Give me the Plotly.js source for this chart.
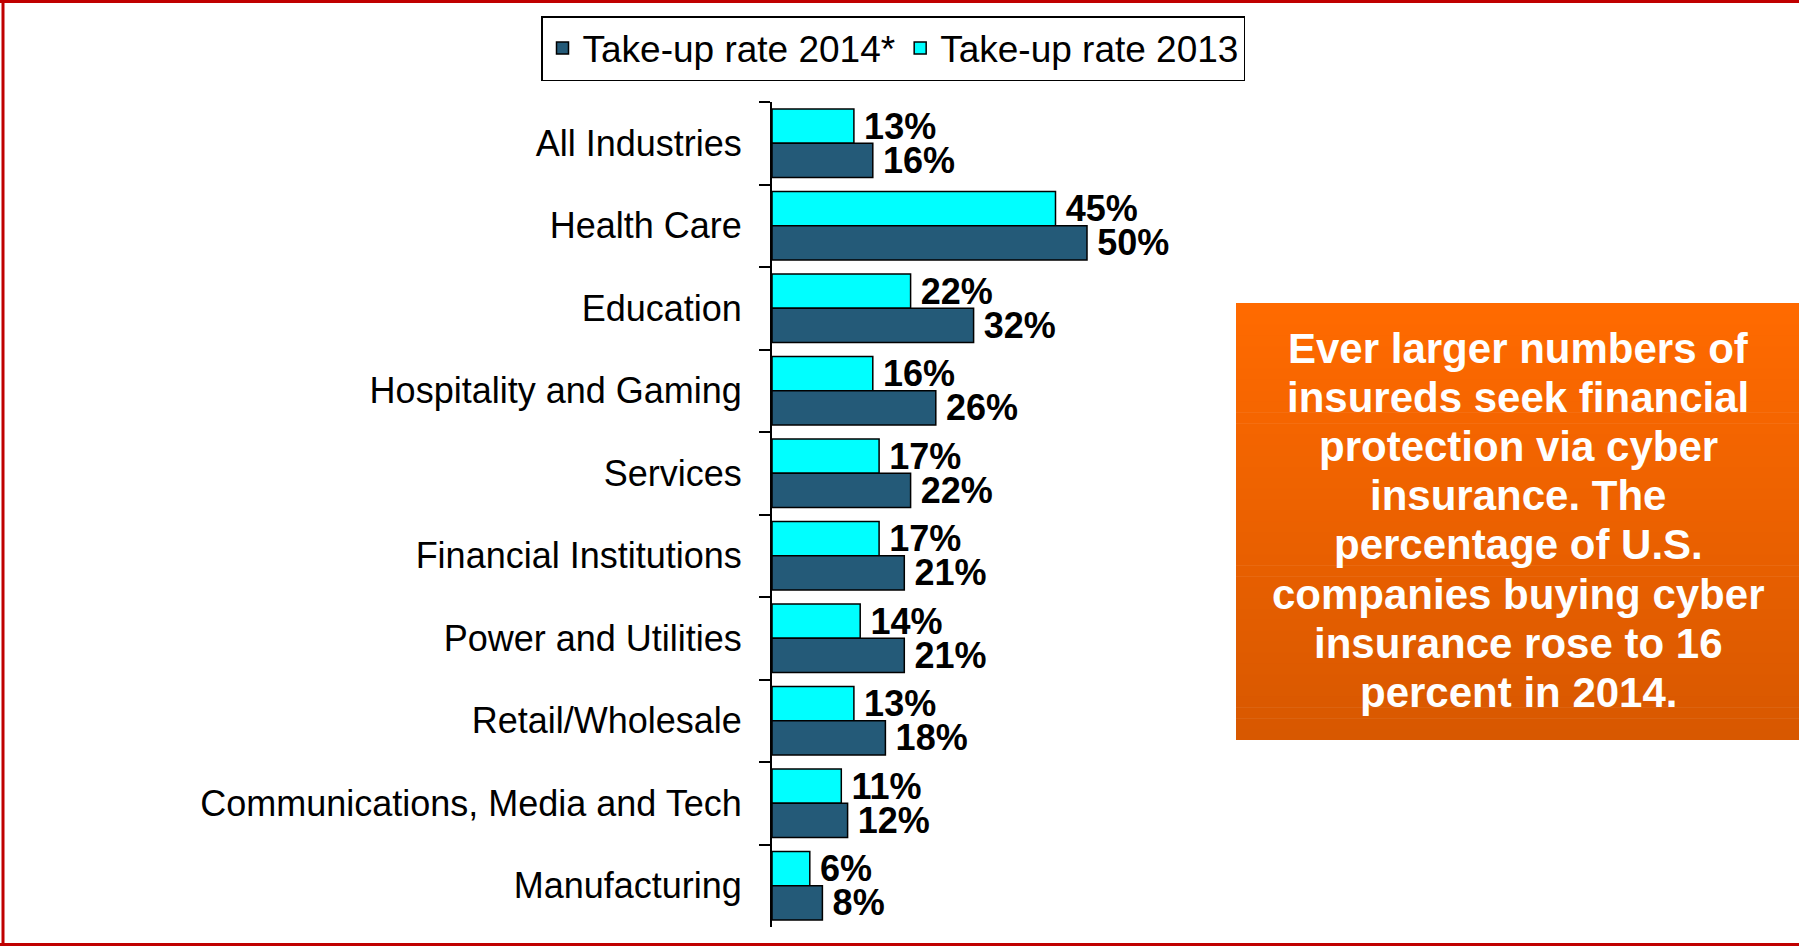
<!DOCTYPE html>
<html>
<head>
<meta charset="utf-8">
<script src="https://cdn.plot.ly/plotly-3.0.1.min.js"></script>
<style>
  html, body { margin: 0; padding: 0; background: #ffffff; }
  #chart { width: 1799px; height: 946px; }
</style>
</head>
<body>
<div id="chart"></div>
<script>
// ---- data ----
const categories = [
  "All Industries",
  "Health Care",
  "Education",
  "Hospitality and Gaming",
  "Services",
  "Financial Institutions",
  "Power and Utilities",
  "Retail/Wholesale",
  "Communications, Media and Tech",
  "Manufacturing"
];
const rate2014 = [16, 50, 32, 26, 22, 21, 21, 18, 12, 8];
const rate2013 = [13, 45, 22, 16, 17, 17, 14, 13, 11, 6];
const seriesNames = ["Take-up rate 2014*", "Take-up rate 2013"];
const noteLines = [
  "Ever larger numbers of",
  "insureds seek financial",
  "protection via cyber",
  "insurance. The",
  "percentage of U.S.",
  "companies buying cyber",
  "insurance rose to 16",
  "percent in 2014."
];

// ---- geometry helpers (pixel -> paper) ----
const W = 1799, H = 946;
const M = { l: 772, r: 649, t: 102, b: 19 };
const plotW = W - M.l - M.r, plotH = H - M.t - M.b;
const XMAX = 60;
const px = x => (x - M.l) / plotW;
const py = y => (H - M.b - y) / plotH;

const FONT = "Liberation Sans, Arial, sans-serif";

const traces = [
  {
    type: "bar", orientation: "h",
    name: seriesNames[1],
    y: categories, x: rate2013,
    marker: { color: "#00FFFF", line: { color: "#000000", width: 1.5 } },
    texttemplate: "\u2009%{x}%", textposition: "outside",
    textfont: { family: FONT, size: 36, color: "#000000", weight: "bold" },
    constraintext: "none", cliponaxis: false, hoverinfo: "x+y"
  },
  {
    type: "bar", orientation: "h",
    name: seriesNames[0],
    y: categories, x: rate2014,
    marker: { color: "#245A78", line: { color: "#000000", width: 1.5 } },
    texttemplate: "\u2009%{x}%", textposition: "outside",
    textfont: { family: FONT, size: 36, color: "#000000", weight: "bold" },
    constraintext: "none", cliponaxis: false, hoverinfo: "x+y"
  }
];

// shapes: red frame + orange gradient box
const shapes = [];
const boxL = 1236, boxR = 1805, boxT = 303, boxB = 740;
const colTop = [255, 106, 0], colBot = [216, 88, 0];
const N = 40;
for (let i = 0; i < N; i++) {
  const f = i / (N - 1);
  const c = colTop.map((v, k) => Math.round(v + (colBot[k] - v) * f));
  const y0 = boxT + (boxB - boxT) * i / N;
  const y1 = boxT + (boxB - boxT) * (i + 1) / N + 0.6;
  shapes.push({
    type: "rect", xref: "paper", yref: "paper", layer: "below",
    x0: px(boxL), x1: px(boxR), y0: py(Math.min(y1, boxB)), y1: py(y0),
    fillcolor: `rgb(${c[0]},${c[1]},${c[2]})`, line: { width: 0 }
  });
}
const red = "#C00000";
shapes.push({ type: "line", xref: "paper", yref: "paper", x0: px(0), x1: px(W + 5), y0: py(1.5), y1: py(1.5), line: { color: red, width: 3 } });
shapes.push({ type: "line", xref: "paper", yref: "paper", x0: px(3), x1: px(3), y0: py(0), y1: py(H), line: { color: red, width: 3 } });
shapes.push({ type: "line", xref: "paper", yref: "paper", x0: px(0), x1: px(W + 5), y0: py(944.5), y1: py(944.5), line: { color: red, width: 3 } });

const lineY0 = 348, lineStep = 49.2;
const annotations = noteLines.map((t, i) => ({
  xref: "paper", yref: "paper",
  x: px(1518), y: py(lineY0 + i * lineStep),
  xanchor: "center", yanchor: "middle",
  text: t, showarrow: false,
  font: { family: FONT, size: 42, color: "#FFFFFF", weight: "bold" }
}));

const layout = {
  width: W, height: H,
  margin: M,
  paper_bgcolor: "#FFFFFF", plot_bgcolor: "#FFFFFF",
  barmode: "group", bargap: 0.17, bargroupgap: 0,
  showlegend: true,
  legend: {
    orientation: "h", traceorder: "reversed",
    x: px(541), xanchor: "left", y: py(16), yanchor: "top",
    bordercolor: "#000000", borderwidth: 1.5, bgcolor: "#FFFFFF",
    font: { family: FONT, size: 37, color: "#000000" },
    itemwidth: 30
  },
  xaxis: { range: [0, XMAX], visible: false, fixedrange: true },
  yaxis: {
    autorange: "reversed", type: "category",
    showline: true, linecolor: "#000000", linewidth: 2,
    ticks: "outside", tickson: "boundaries", ticklen: 11, tickwidth: 2, tickcolor: "#000000",
    ticklabelstandoff: 21,
    tickfont: { family: FONT, size: 36, color: "#000000" },
    showgrid: false, zeroline: false, fixedrange: true
  },
  shapes: shapes,
  annotations: annotations
};

Plotly.newPlot("chart", traces, layout, { displayModeBar: false, staticPlot: true });
</script>
</body>
</html>
